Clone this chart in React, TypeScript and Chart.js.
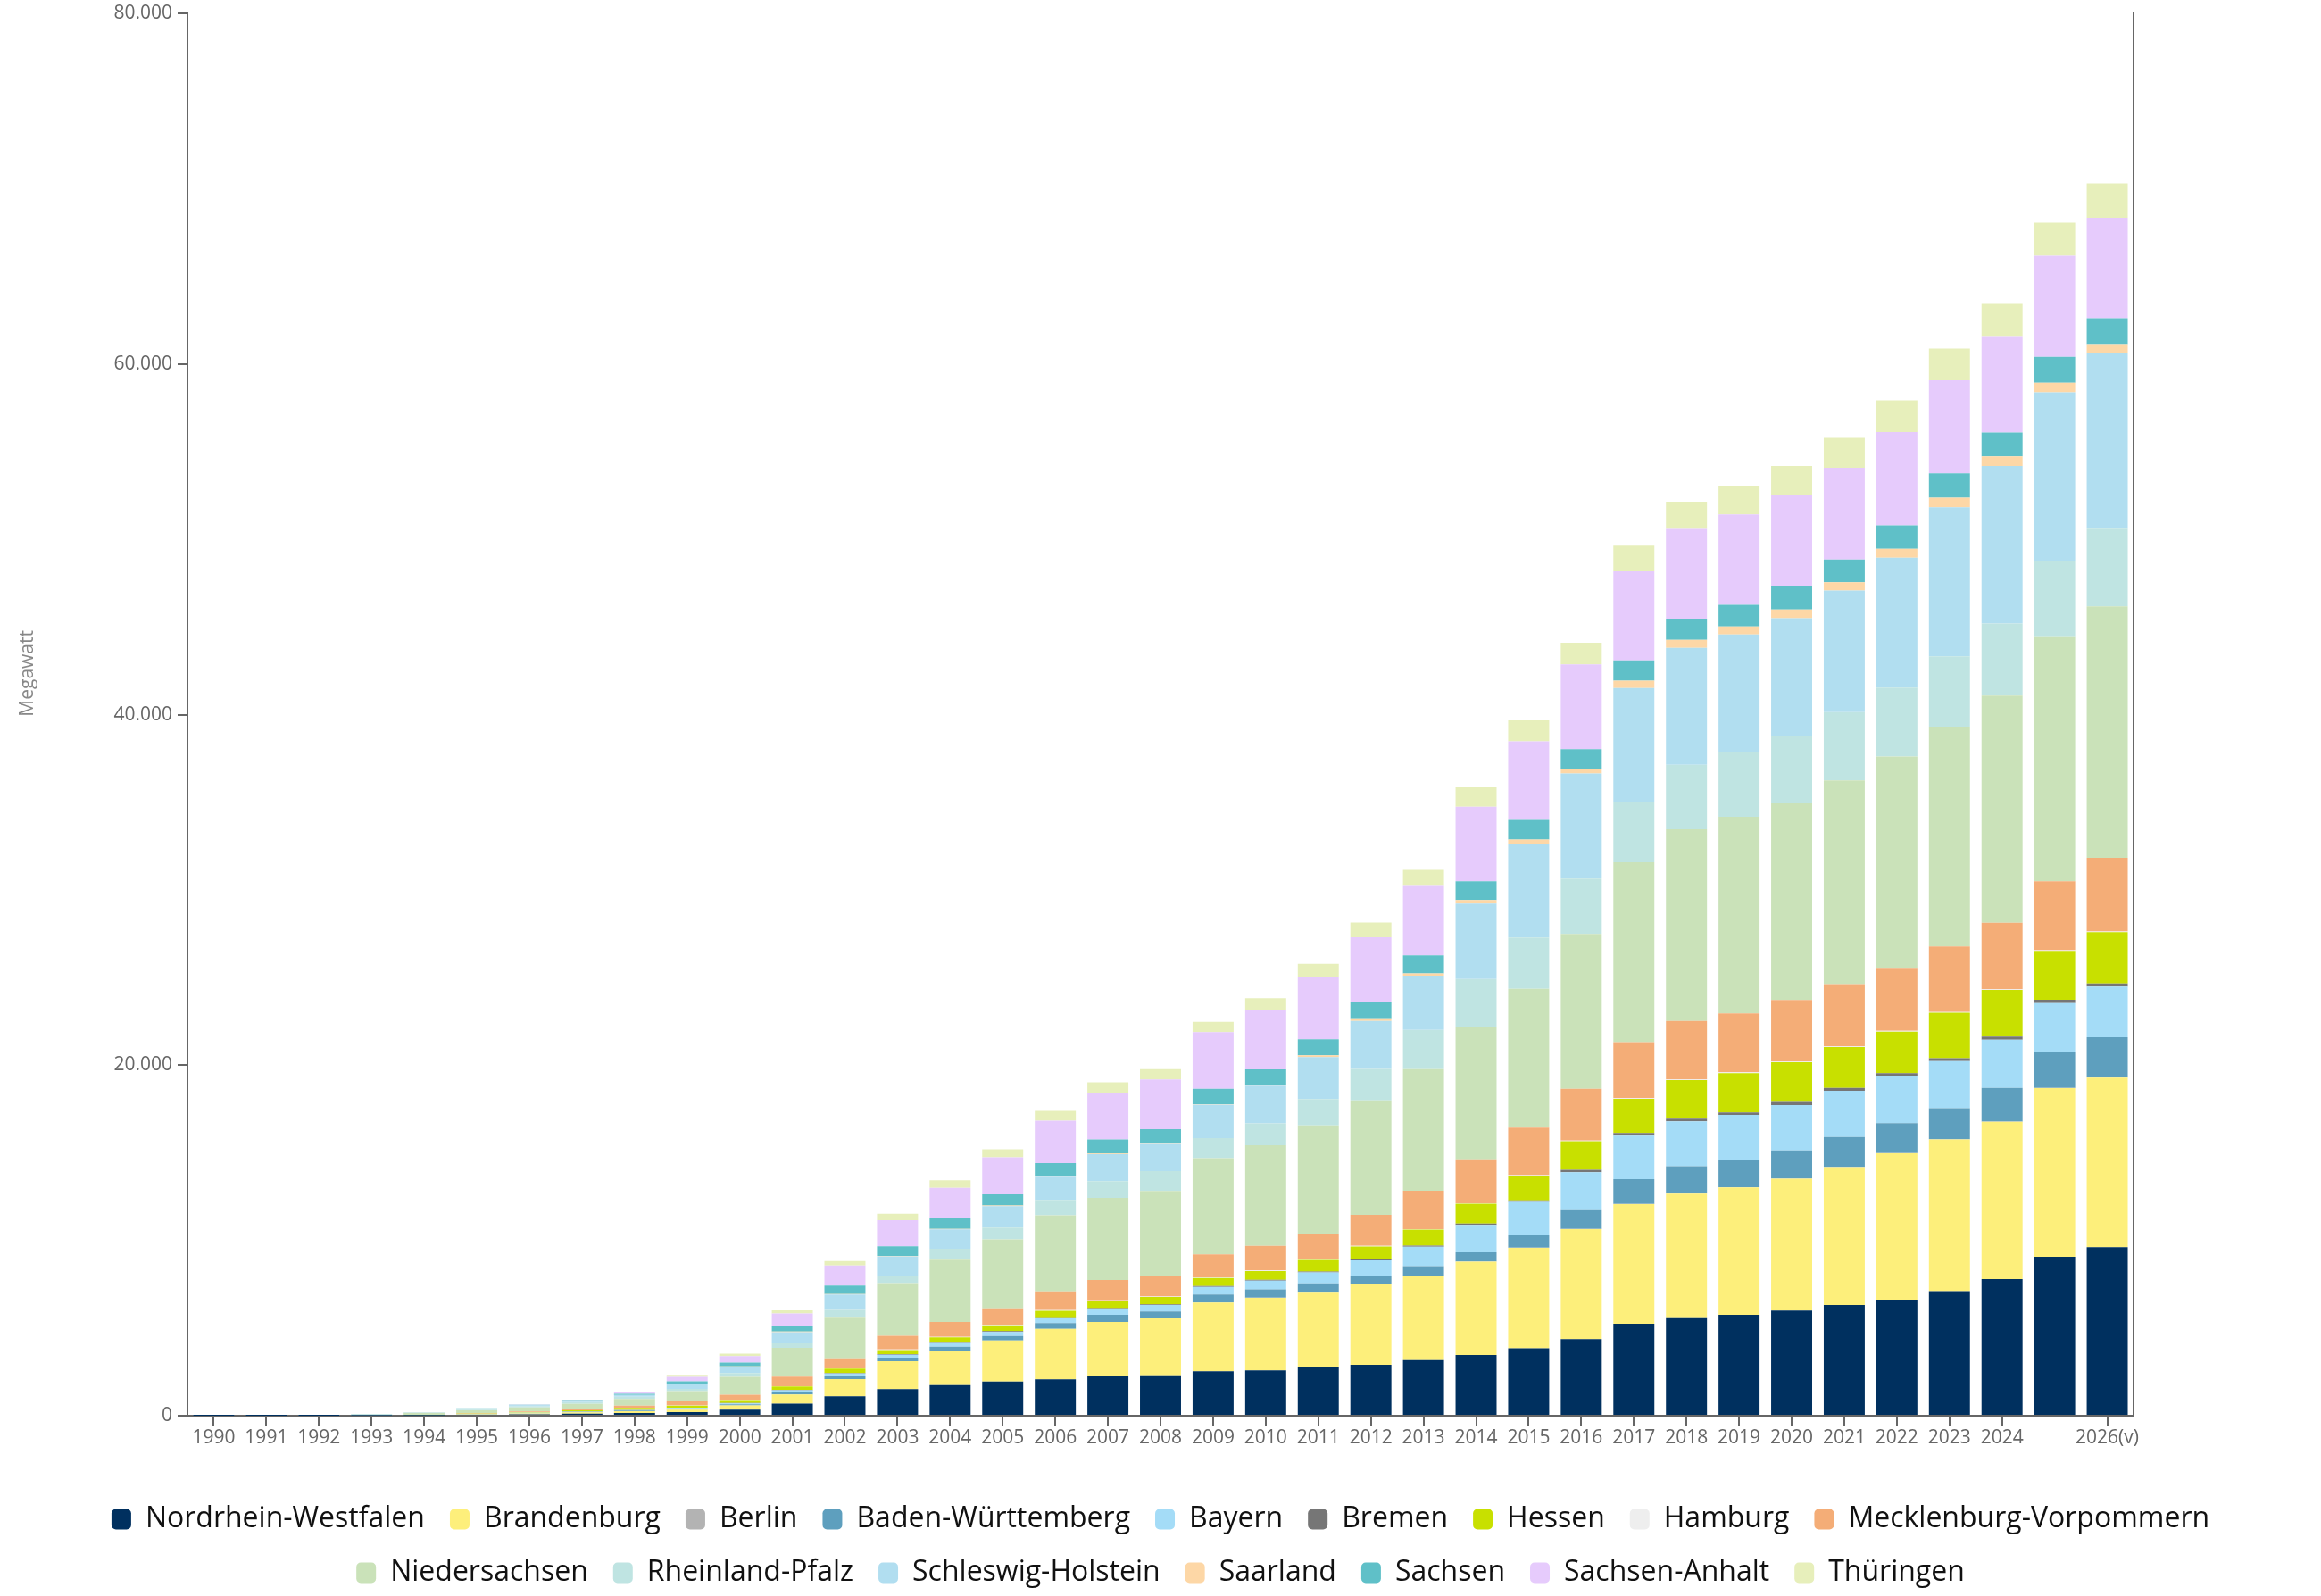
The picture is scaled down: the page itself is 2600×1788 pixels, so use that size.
import React, { useEffect, useRef } from "react";
import { Chart, registerables, ChartConfiguration } from "chart.js";

Chart.register(...registerables);

const years = [
  "1990", "1991", "1992", "1993", "1994", "1995", "1996", "1997", "1998", "1999",
  "2000", "2001", "2002", "2003", "2004", "2005", "2006", "2007", "2008", "2009",
  "2010", "2011", "2012", "2013", "2014", "2015", "2016", "2017", "2018", "2019",
  "2020", "2021", "2022", "2023", "2024", "", "2026(v)",
];

// installierte Leistung in MW
const nrw = [5, 5, 5, 10, 15, 50, 80, 110, 150, 200, 350, 690, 1110, 1520, 1740, 1950, 2080, 2250, 2300, 2540, 2590, 2770, 2900, 3170, 3460, 3850, 4370, 5250, 5610, 5750, 6000, 6310, 6620, 7100, 7790, 9070, 9620];
const brandenburg = [0, 0, 0, 0, 5, 20, 50, 80, 100, 150, 235, 520, 975, 1590, 1950, 2340, 2880, 3100, 3250, 3910, 4140, 4300, 4620, 4830, 5330, 5730, 6280, 6820, 7060, 7280, 7530, 7880, 8360, 8670, 8980, 9620, 9670];
const berlin = [0, 0, 0, 0, 0, 0, 0, 0, 0, 0, 0, 0, 0, 0, 0, 0, 0, 0, 2, 2, 2, 2, 2, 2, 5, 5, 12, 12, 12, 12, 12, 12, 12, 12, 12, 12, 12];
const badenWuerttemberg = [0, 0, 0, 0, 5, 10, 15, 25, 40, 60, 70, 120, 185, 200, 250, 250, 320, 400, 390, 460, 475, 475, 475, 530, 530, 710, 1065, 1420, 1560, 1560, 1600, 1700, 1700, 1770, 1920, 2060, 2290];
const bayern = [0, 0, 0, 0, 5, 10, 15, 20, 30, 30, 50, 120, 135, 170, 200, 240, 300, 350, 370, 440, 500, 630, 870, 1110, 1560, 1900, 2165, 2480, 2560, 2560, 2590, 2640, 2680, 2680, 2750, 2790, 2890];
const bremen = [0, 0, 0, 0, 0, 5, 5, 5, 10, 10, 15, 30, 30, 30, 30, 40, 40, 40, 40, 50, 50, 50, 50, 60, 80, 100, 140, 150, 150, 150, 170, 160, 180, 170, 180, 180, 180];
const hessen = [0, 0, 0, 0, 5, 15, 30, 60, 110, 120, 170, 185, 250, 240, 300, 340, 370, 420, 420, 460, 500, 660, 740, 920, 1130, 1400, 1630, 1950, 2200, 2240, 2270, 2330, 2370, 2600, 2660, 2790, 2930];
const hamburg = [0, 0, 0, 0, 0, 5, 5, 5, 10, 10, 10, 20, 20, 30, 30, 30, 30, 30, 30, 30, 30, 30, 30, 30, 30, 30, 40, 40, 40, 40, 40, 40, 40, 40, 40, 40, 40];
const mecklenburg = [0, 0, 0, 5, 5, 20, 40, 80, 120, 250, 300, 540, 570, 780, 850, 930, 1070, 1150, 1150, 1320, 1400, 1450, 1770, 2190, 2510, 2720, 2950, 3200, 3340, 3370, 3510, 3550, 3550, 3740, 3800, 3940, 4210];
const niedersachsen = [5, 15, 25, 45, 120, 170, 230, 290, 390, 570, 1010, 1650, 2370, 3010, 3550, 3940, 4350, 4690, 4870, 5480, 5750, 6200, 6540, 6940, 7520, 7920, 8840, 10260, 10930, 11220, 11220, 11630, 12100, 12530, 12960, 13930, 14340];
const rheinlandPfalz = [0, 0, 0, 5, 5, 40, 70, 100, 120, 130, 220, 250, 390, 420, 630, 680, 880, 960, 1130, 1150, 1240, 1500, 1790, 2240, 2770, 2930, 3160, 3410, 3690, 3660, 3830, 3900, 3940, 4020, 4120, 4350, 4440];
const schleswigHolstein = [10, 20, 25, 35, 20, 60, 60, 80, 100, 250, 370, 640, 875, 1100, 1100, 1220, 1320, 1540, 1560, 1910, 2160, 2400, 2740, 3090, 4300, 5330, 6000, 6530, 6670, 6740, 6740, 6940, 7410, 8510, 8980, 9620, 10030];
const saarland = [0, 0, 0, 0, 0, 0, 0, 0, 5, 10, 15, 30, 30, 30, 30, 30, 30, 30, 30, 30, 60, 100, 100, 130, 200, 260, 250, 420, 460, 460, 500, 470, 510, 550, 550, 550, 500];
const sachsen = [0, 0, 0, 0, 0, 15, 30, 40, 60, 170, 220, 340, 490, 540, 610, 640, 740, 800, 810, 880, 870, 920, 980, 1030, 1080, 1110, 1140, 1170, 1210, 1240, 1310, 1300, 1340, 1380, 1370, 1470, 1470];
const sachsenAnhalt = [0, 0, 0, 0, 0, 0, 5, 10, 80, 250, 370, 700, 1140, 1490, 1730, 2120, 2420, 2670, 2840, 3230, 3400, 3560, 3690, 3960, 4250, 4490, 4830, 5080, 5110, 5150, 5250, 5240, 5320, 5320, 5500, 5770, 5730];
const thueringen = [0, 0, 0, 0, 0, 0, 5, 5, 30, 120, 135, 170, 250, 370, 440, 460, 560, 590, 590, 590, 660, 740, 840, 920, 1110, 1190, 1240, 1460, 1560, 1600, 1630, 1700, 1810, 1810, 1830, 1880, 1970];

const yTicks = [0, 20000, 40000, 60000, 80000];

const series: [string, number[], string][] = [
  ["Nordrhein-Westfalen", nrw, "#00305f"],
  ["Brandenburg", brandenburg, "#fdef7b"],
  ["Berlin", berlin, "#b3b3b3"],
  ["Baden-Württemberg", badenWuerttemberg, "#5e9fbe"],
  ["Bayern", bayern, "#a4dcf7"],
  ["Bremen", bremen, "#767676"],
  ["Hessen", hessen, "#c8e000"],
  ["Hamburg", hamburg, "#eeeeee"],
  ["Mecklenburg-Vorpommern", mecklenburg, "#f4ad77"],
  ["Niedersachsen", niedersachsen, "#cae2b9"],
  ["Rheinland-Pfalz", rheinlandPfalz, "#bfe4e2"],
  ["Schleswig-Holstein", schleswigHolstein, "#b1def0"],
  ["Saarland", saarland, "#fdd7a6"],
  ["Sachsen", sachsen, "#5fc0c8"],
  ["Sachsen-Anhalt", sachsenAnhalt, "#e6cbfc"],
  ["Thüringen", thueringen, "#e7efbb"],
];

const FONT = "'Open Sans', 'Noto Sans', sans-serif";
const AXIS = "#666666";

const deNumber = (v: number) => String(v).replace(/\B(?=(\d{3})+(?!\d))/g, ".");

export default function App() {
  const ref = useRef<HTMLCanvasElement | null>(null);

  useEffect(() => {
    const ctx = ref.current?.getContext("2d");
    if (!ctx) return;
    const config: ChartConfiguration<"bar"> = {
      type: "bar",
      data: {
        labels: years,
        datasets: series.map(([label, data, color]) => ({
          label,
          data,
          backgroundColor: color,
          borderWidth: 0,
          barPercentage: 0.78,
          categoryPercentage: 1,
        })),
      },
      options: {
        responsive: true,
        maintainAspectRatio: false,
        animation: false,
        layout: { padding: 0 },
        plugins: {
          tooltip: { enabled: false },
          legend: {
            position: "bottom",
            labels: {
              font: { family: FONT, size: 32 },
              color: "#111111",
              boxWidth: 22,
              boxHeight: 23,
              useBorderRadius: true,
              borderRadius: 5,
              padding: 28,
            },
          },
        },
        scales: {
          x: {
            stacked: true,
            grid: {
              display: true,
              drawOnChartArea: false,
              offset: false,
              tickLength: 11,
              lineWidth: 2,
              color: AXIS,
              tickColor: (c: any) => (c.index === 35 ? "rgba(0,0,0,0)" : AXIS),
            },
            border: { color: AXIS, width: 2 },
            ticks: {
              autoSkip: false,
              maxRotation: 0,
              padding: 1,
              color: AXIS,
              font: { family: FONT, size: 21 },
            },
            afterFit: (scale: any) => {
              scale.height = 72;
            },
          },
          y: {
            stacked: true,
            position: "left",
            min: 0,
            max: 80000,
            afterBuildTicks: (scale: any) => {
              scale.ticks = yTicks.map((value) => ({ value }));
            },
            grid: {
              display: true,
              drawOnChartArea: false,
              tickLength: 11,
              lineWidth: 2,
              color: AXIS,
            },
            border: { color: AXIS, width: 2 },
            ticks: {
              padding: 6,
              color: AXIS,
              font: { family: FONT, size: 21, lineHeight: 0.9 },
              callback: (v: any) => deNumber(Number(v)),
            },
            title: {
              display: true,
              text: "                 Megawatt",
              color: "#888888",
              font: { family: FONT, size: 21 },
              padding: { top: 18, bottom: 0 },
            },
            afterFit: (scale: any) => {
              scale.width = 210;
            },
          },
          y2: {
            position: "right",
            display: true,
            grid: { display: false },
            ticks: { display: false },
            border: { color: AXIS, width: 2 },
            afterFit: (scale: any) => {
              scale.width = 210;
            },
          },
        },
      },
    };
    const chart = new Chart(ctx, config);
    return () => chart.destroy();
  }, []);

  return (
    <div style={{ position: "fixed", left: 0, top: 0, width: 2600, height: 1788, background: "#fff" }}>
      <canvas ref={ref} aria-label="Installierte Windleistung nach Bundesländern" role="img" />
    </div>
  );
}
